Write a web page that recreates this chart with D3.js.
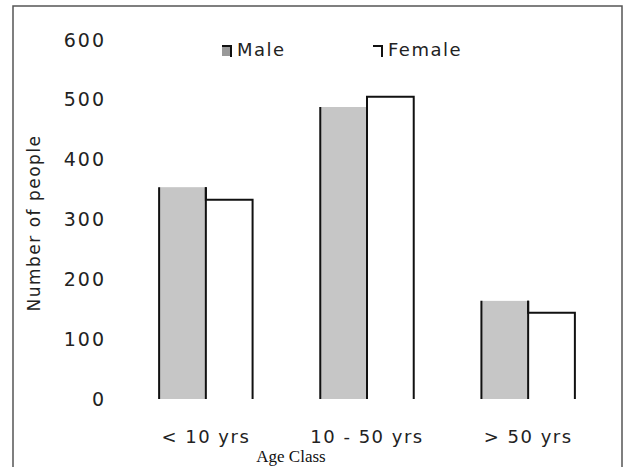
<!DOCTYPE html>
<html>
<head>
<meta charset="utf-8">
<script src="https://cdn.jsdelivr.net/npm/d3@7"></script>
<style>
  body { margin: 0; background: #fff; }
  svg { display: block; }
</style>
</head>
<body>
<div id="chart"></div>
<script>
// values
const ageClasses = ["< 10 yrs", "10 - 50 yrs", "> 50 yrs"];
const maleCounts = [354, 488, 164];
const femaleCounts = [333, 505, 144];
const yTicks = [0, 100, 200, 300, 400, 500, 600];
const legendLabels = ["Male", "Female"];

const W = 624, H = 467;
const font = "'DejaVu Sans', Arial, sans-serif";

const svg = d3.select("#chart").append("svg")
  .attr("width", W)
  .attr("height", H);

// frame
svg.append("rect")
  .attr("x", 13).attr("y", 6)
  .attr("width", 609).attr("height", 480)
  .attr("fill", "none")
  .attr("stroke", "#555")
  .attr("stroke-width", 1.5);

const x = d3.scaleBand()
  .domain(ageClasses)
  .range([143, 591])
  .paddingInner(0.42)
  .paddingOuter(0.1);

const sub = d3.scaleBand()
  .domain(["Male", "Female"])
  .range([0, x.bandwidth()]);

const y = d3.scaleLinear().domain([0, 600]).range([399, 40]);

// y tick labels (no axis line in the picture)
svg.append("g").selectAll("text")
  .data(yTicks)
  .join("text")
  .attr("x", 106)
  .attr("y", d => y(d))
  .attr("dy", "0.35em")
  .attr("text-anchor", "end")
  .style("font-family", font)
  .style("font-size", "19px")
  .style("letter-spacing", "2px")
  .style("fill", "#222")
  .text(d => d);

const rows = ageClasses.map((c, i) => ({ cls: c, male: maleCounts[i], female: femaleCounts[i] }));

// male bars: grey with black sides
const g = svg.append("g");
rows.forEach(d => {
  const x0 = x(d.cls) + sub("Male");
  const x1 = x0 + sub.bandwidth();
  g.append("rect")
    .attr("x", x0).attr("y", y(d.male))
    .attr("width", x1 - x0).attr("height", y(0) - y(d.male))
    .attr("fill", "#c6c6c6");
  g.append("path")
    .attr("d", `M${x0},${y(0)}V${y(d.male)}M${x1},${y(d.male)}V${y(0)}`)
    .attr("fill", "none")
    .attr("stroke", "#111")
    .attr("stroke-width", 2);
});

// female bars: open outline, no base
rows.forEach(d => {
  const x0 = x(d.cls) + sub("Female");
  const x1 = x0 + sub.bandwidth();
  g.append("path")
    .attr("d", `M${x0},${y(d.male)}V${y(d.female)}H${x1}V${y(0)}`)
    .attr("fill", "none")
    .attr("stroke", "#111")
    .attr("stroke-width", 2);
});

// category labels
svg.append("g").selectAll("text")
  .data(ageClasses)
  .join("text")
  .attr("x", d => x(d) + x.bandwidth() / 2)
  .attr("y", 443)
  .attr("text-anchor", "middle")
  .style("font-family", font)
  .style("font-size", "18px")
  .style("letter-spacing", "1.5px")
  .style("fill", "#222")
  .text(d => d);

// axis titles
svg.append("text")
  .attr("transform", "translate(40,223) rotate(-90)")
  .attr("text-anchor", "middle")
  .style("font-family", font)
  .style("font-size", "17px")
  .style("letter-spacing", "1.5px")
  .style("fill", "#222")
  .text("Number of people");

svg.append("text")
  .attr("x", 291)
  .attr("y", 462)
  .attr("text-anchor", "middle")
  .style("font-family", "'Liberation Serif', 'DejaVu Serif', serif")
  .style("font-size", "17px")
  .style("fill", "#111")
  .text("Age Class");

// legend
const legendX = [222, 373];
const legend = svg.append("g").selectAll("g")
  .data(legendLabels)
  .join("g")
  .attr("transform", (d, i) => `translate(${legendX[i]},50)`);

legend.append("rect")
  .attr("x", 0).attr("y", -4)
  .attr("width", 9).attr("height", 10)
  .attr("fill", (d, i) => i === 0 ? "#999" : "#fff");

legend.append("path")
  .attr("d", "M0,-4H9V7")
  .attr("fill", "none")
  .attr("stroke", "#111")
  .attr("stroke-width", 2);

legend.append("text")
  .attr("x", 15)
  .attr("y", 0)
  .attr("dy", "0.35em")
  .style("font-family", font)
  .style("font-size", "18px")
  .style("letter-spacing", "1.5px")
  .style("fill", "#222")
  .text(d => d);
</script>
</body>
</html>
